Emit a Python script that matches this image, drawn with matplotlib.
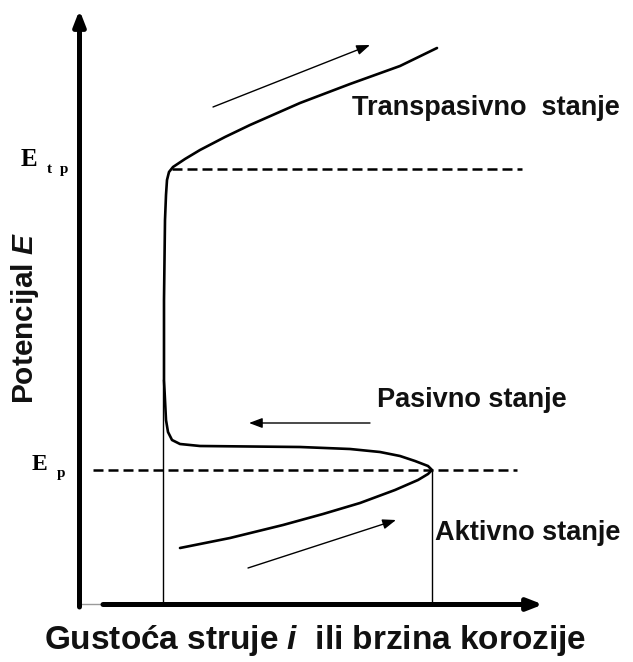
import matplotlib
matplotlib.use("Agg")
import matplotlib.pyplot as plt
import numpy as np

# ---- data (pixel-like units: x = current density, y = potential) ----
# polarisation curve (x, y) in image pixel coordinates
curve_x = [180, 230, 283, 323, 360, 395, 418, 428, 432,
           428, 415, 400, 380, 350, 300, 250, 200, 180, 172, 168, 166, 165, 164,
           164, 164, 164.5, 165, 166, 167, 169, 173, 185, 200, 225, 250, 300, 350, 400, 437]
curve_y = [548, 538, 525, 514, 503, 490, 480, 474, 470,
           466, 461, 456, 452, 449, 447, 446.5, 446, 444, 440, 432, 420, 400, 380,
           340, 300, 260, 220, 195, 180, 172, 167, 159, 150, 137, 125, 103, 84, 66, 48]

E_p = 470      # passivation potential (image y)
E_tp = 169     # transpassive potential (image y)
i_pass = 163   # passive current density (image x)
i_crit = 432   # critical current density (image x)

labels_state = ["Transpasivno  stanje", "Pasivno stanje", "Aktivno stanje"]
ylabel = "Potencijal $\\mathit{E}$"
xlabel = "Gustoća struje $\\mathit{i}$  ili brzina korozije"

plt.rcParams["mathtext.fontset"] = "custom"
plt.rcParams["mathtext.it"] = "Liberation Sans:bold:italic"

W, H = 633, 662
fig = plt.figure(figsize=(W / 100, H / 100), dpi=100)
ax = fig.add_axes([0, 0, 1, 1])
ax.set_xlim(0, W)
ax.set_ylim(H, 0)
ax.axis("off")

# axes arrows
ax.annotate("", xy=(79.5, 10), xytext=(79.5, 607),
            arrowprops=dict(arrowstyle="-|>,head_length=0.9,head_width=0.35", lw=3.6, color="black",
                            shrinkA=0, shrinkB=0))
ax.plot([79.5, 103], [603.5, 603.5], color="#9a9a9a", lw=1.0)
ax.annotate("", xy=(543, 604.5), xytext=(103, 604.5),
            arrowprops=dict(arrowstyle="-|>,head_length=0.9,head_width=0.35", lw=3.6, color="black",
                            shrinkA=0, shrinkB=0))

# thin verticals
ax.plot([i_pass, i_pass], [604, 380], color="black", lw=1.0)
ax.plot([i_crit, i_crit], [604, E_p], color="black", lw=1.0)

# dashed potential lines
ax.plot([93, 517], [E_p, E_p], color="black", lw=1.8, ls=(0, (4, 2)))
ax.plot([172, 522], [E_tp, E_tp], color="black", lw=1.8, ls=(0, (4, 2)))

# the curve
ax.plot(curve_x, curve_y, color="black", lw=1.9, solid_capstyle="round", solid_joinstyle="round")

# direction arrows
arr = dict(arrowstyle="-|>,head_length=0.8,head_width=0.3", lw=1.0, color="black", shrinkA=0, shrinkB=0)
ax.annotate("", xy=(370, 45), xytext=(213, 107), arrowprops=arr)
ax.annotate("", xy=(249, 423), xytext=(370, 423), arrowprops=arr)
ax.annotate("", xy=(396, 520), xytext=(248, 568), arrowprops=arr)

# state labels
sans = "Liberation Sans"
tc = "#111111"
ax.text(352, 108, labels_state[0], fontsize=19.5, fontweight="bold", family=sans,
        ha="left", va="center", color=tc)
ax.text(377, 400, labels_state[1], fontsize=19.5, fontweight="bold", family=sans,
        ha="left", va="center", color=tc)
ax.text(435, 533, labels_state[2], fontsize=19.5, fontweight="bold", family=sans,
        ha="left", va="center", color=tc)

# potential labels
serif = "Liberation Serif"
ax.text(21, 166, "E", fontsize=18, fontweight="bold", family=serif, ha="left", va="baseline")
ax.text(47, 173, "t  p", fontsize=11, fontweight="bold", family=serif, ha="left", va="baseline")
ax.text(32, 470, "E", fontsize=17, fontweight="bold", family=serif, ha="left", va="baseline")
ax.text(57, 477, "p", fontsize=11, fontweight="bold", family=serif, ha="left", va="baseline")

# axis titles
ax.text(25, 318, ylabel, rotation=90, fontsize=21.5, fontweight="bold",
        family=sans, ha="center", va="center", color=tc)
ax.text(315, 641, xlabel, fontsize=24, fontweight="bold",
        family=sans, ha="center", va="center", color=tc)

fig.savefig("out.png", dpi=100)
